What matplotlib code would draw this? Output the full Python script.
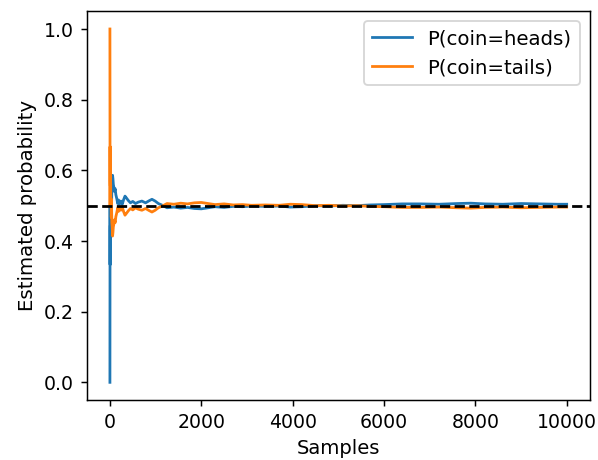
import matplotlib
matplotlib.use("Agg")
import matplotlib.pyplot as plt

samples = [0, 2, 3, 4, 5, 7, 9, 11, 13, 16, 20, 25, 30, 36, 42, 50, 58, 66, 75, 85,
           100, 115, 130, 150, 170, 190, 210, 240, 270, 300, 330, 360, 400, 450, 500,
           560, 620, 700, 780, 860, 920, 990, 1060, 1150, 1250, 1400, 1550, 1700, 1850,
           2000, 2150, 2300, 2500, 2700, 2900, 3100, 3400, 3700, 3950, 4200, 4500, 4800,
           5100, 5400, 5700, 6000, 6400, 6800, 7200, 7600, 7900, 8200, 8600, 9000, 9400,
           9800, 9999]

heads = [0.0, 0.333, 0.5, 0.4, 0.333, 0.429, 0.444, 0.4, 0.462, 0.438, 0.5, 0.48,
         0.533, 0.5, 0.548, 0.56, 0.586, 0.576, 0.56, 0.553, 0.54, 0.548, 0.531, 0.52,
         0.506, 0.516, 0.505, 0.513, 0.504, 0.517, 0.527, 0.522, 0.515, 0.508, 0.512,
         0.506, 0.51, 0.513, 0.508, 0.514, 0.518, 0.513, 0.506, 0.501, 0.494, 0.496,
         0.493, 0.495, 0.492, 0.491, 0.494, 0.497, 0.495, 0.498, 0.497, 0.499, 0.498,
         0.499, 0.496, 0.497, 0.5, 0.499, 0.501, 0.5, 0.502, 0.503, 0.505, 0.505, 0.504,
         0.506, 0.507, 0.505, 0.504, 0.506, 0.505, 0.504, 0.504]

tails = [1.0, 0.667, 0.5, 0.6, 0.667, 0.571, 0.556, 0.6, 0.538, 0.562, 0.5, 0.52,
         0.467, 0.5, 0.452, 0.44, 0.414, 0.424, 0.44, 0.447, 0.46, 0.452, 0.469, 0.48,
         0.494, 0.484, 0.495, 0.487, 0.496, 0.483, 0.473, 0.478, 0.485, 0.492, 0.488,
         0.494, 0.49, 0.487, 0.492, 0.486, 0.482, 0.487, 0.494, 0.499, 0.506, 0.504,
         0.507, 0.505, 0.508, 0.509, 0.506, 0.503, 0.505, 0.502, 0.503, 0.501, 0.502,
         0.501, 0.504, 0.503, 0.5, 0.501, 0.499, 0.5, 0.498, 0.497, 0.495, 0.495, 0.496,
         0.494, 0.493, 0.495, 0.496, 0.494, 0.495, 0.496, 0.496]

labels = ["P(coin=heads)", "P(coin=tails)"]
reference = 0.5

fig = plt.figure(figsize=(4.5, 3.46), dpi=133)
ax = fig.add_axes([0.1455, 0.1304, 0.8395, 0.8446])
ax.plot(samples, heads, label=labels[0], color="#1f77b4", lw=1.5)
ax.plot(samples, tails, label=labels[1], color="#ff7f0e", lw=1.5)
ax.axhline(y=reference, color="black", linestyle="dashed")
ax.set_xlabel("Samples", fontsize=10.6)
ax.set_ylabel("Estimated probability", fontsize=10.7)
ax.set_xticks([0, 2000, 4000, 6000, 8000, 10000])
ax.set_yticks([0.0, 0.2, 0.4, 0.6, 0.8, 1.0])
ax.tick_params(labelsize=10.2)
ax.legend(loc="upper right", prop={"size": 10.7})
fig.savefig("out.png", dpi=133)
